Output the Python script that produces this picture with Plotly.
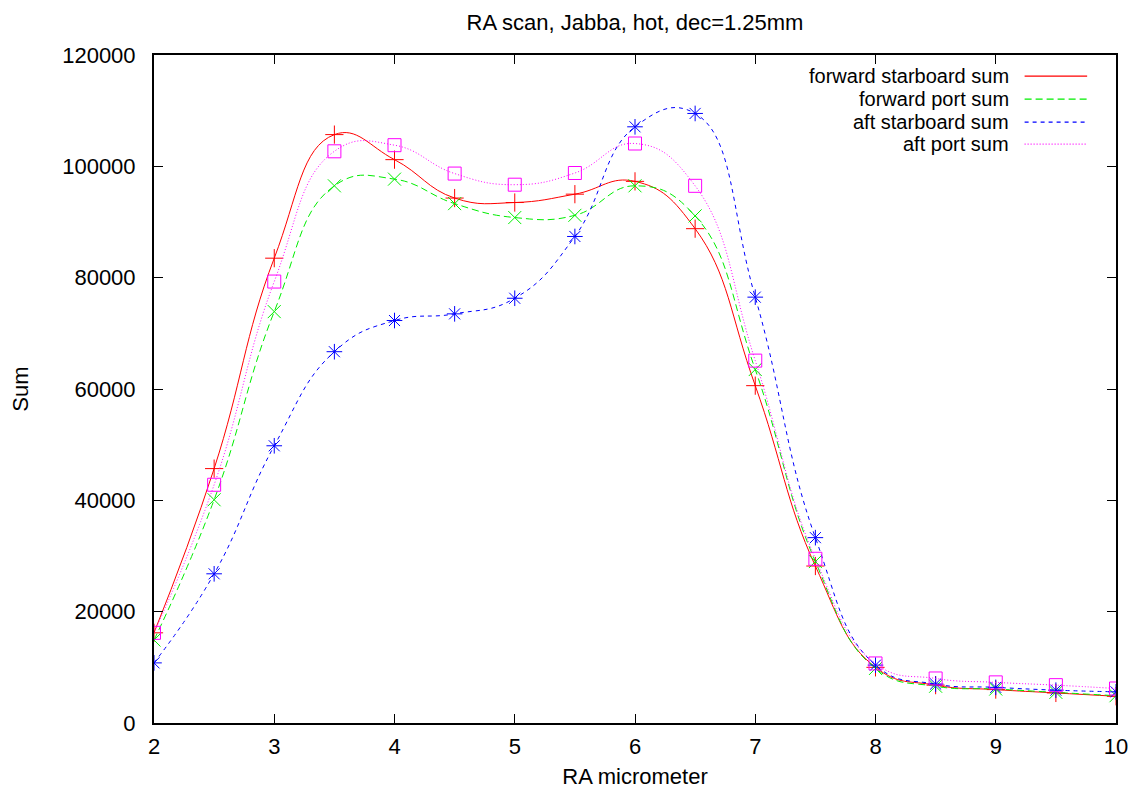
import plotly.graph_objects as go

ra = [2, 2.5, 3, 3.5, 4, 4.5, 5, 5.5, 6, 6.5, 7, 7.5, 8, 8.5, 9, 9.5, 10]

fwd_starboard = [16200, 45700, 83500, 105700, 101200, 94300, 93500, 95000, 97300,
                 88800, 60600, 28200, 10000, 6800, 6000, 5400, 4800]
fwd_port = [14900, 40100, 73900, 96500, 97700, 93300, 90800, 91200, 96500,
            91100, 63500, 29000, 9800, 6600, 6100, 5500, 4900]
aft_starboard = [10800, 26800, 49800, 66700, 72300, 73500, 76300, 87400, 107100,
                 109500, 76500, 33300, 10400, 7000, 6400, 5900, 5600]
aft_port = [16200, 42800, 79300, 102700, 103800, 98700, 96700, 98800, 104100,
            96500, 65100, 29500, 10700, 8000, 7300, 6800, 6200]

series = [
    ("forward starboard sum", fwd_starboard, "#ff0000", "solid", "cross-thin-open"),
    ("forward port sum", fwd_port, "#00ee00", "7px,4px", "x-thin-open"),
    ("aft starboard sum", aft_starboard, "#0000ff", "4px,4px", "asterisk-open"),
    ("aft port sum", aft_port, "#ff00ff", "1px,2px", "square-open"),
]

FONT = "Liberation Sans, Arial, sans-serif"
FS = 22

fig = go.Figure()

for name, vals, color, dash, symbol in series:
    fig.add_trace(go.Scatter(
        x=ra, y=vals, mode="lines+markers", name=name,
        line=dict(color=color, width=1, dash=dash, shape="spline", smoothing=1.3),
        marker=dict(symbol=symbol, size=13, color=color, line=dict(color=color, width=1)),
        showlegend=False,
    ))

# gnuplot-style key: text right-aligned, line sample on the right
key_y = [0.9685, 0.934, 0.8996, 0.8666]
for (name, vals, color, dash, symbol), ky in zip(series, key_y):
    fig.add_annotation(x=0.890, y=ky, xref="paper", yref="paper", text=name,
                       showarrow=False, xanchor="right", yanchor="middle", borderpad=0,
                       font=dict(family=FONT, size=20, color="black"))
    fig.add_shape(type="line", xref="paper", yref="paper", x0=0.905, x1=0.970,
                  y0=ky, y1=ky, line=dict(color=color, width=1.2, dash=dash))

axis_style = dict(
    showgrid=False, zeroline=False, showline=True, linecolor="black", linewidth=2,
    mirror="allticks", ticks="inside", ticklen=9, tickwidth=1, tickcolor="black",
    tickfont=dict(family=FONT, size=FS, color="black"), automargin=False,
)

fig.update_xaxes(range=[2, 10], dtick=1, title=dict(text="RA micrometer", standoff=18,
                 font=dict(family=FONT, size=FS, color="black")),
                 ticklabelstandoff=3, **axis_style)
fig.update_yaxes(range=[0, 120000], dtick=20000, tickformat="d",
                 title=dict(text="Sum", standoff=27, font=dict(family=FONT, size=FS, color="black")),
                 ticklabelstandoff=12, **axis_style)

fig.update_layout(
    width=1133, height=789,
    margin=dict(l=154, r=17, t=55, b=66),
    paper_bgcolor="white", plot_bgcolor="white",
    title=dict(text="RA scan, Jabba, hot, dec=1.25mm", x=0.5, xref="paper", xanchor="center",
               y=1 - 22 / 789, yanchor="middle", automargin=False,
               font=dict(family=FONT, size=FS, color="black")),
)

# drop the default 8px body margin so the figure sits at the window's corner
fig.write_html("out.html", config={"displayModeBar": False},
               post_script="document.body.style.margin='0';document.body.style.overflow='hidden';")
